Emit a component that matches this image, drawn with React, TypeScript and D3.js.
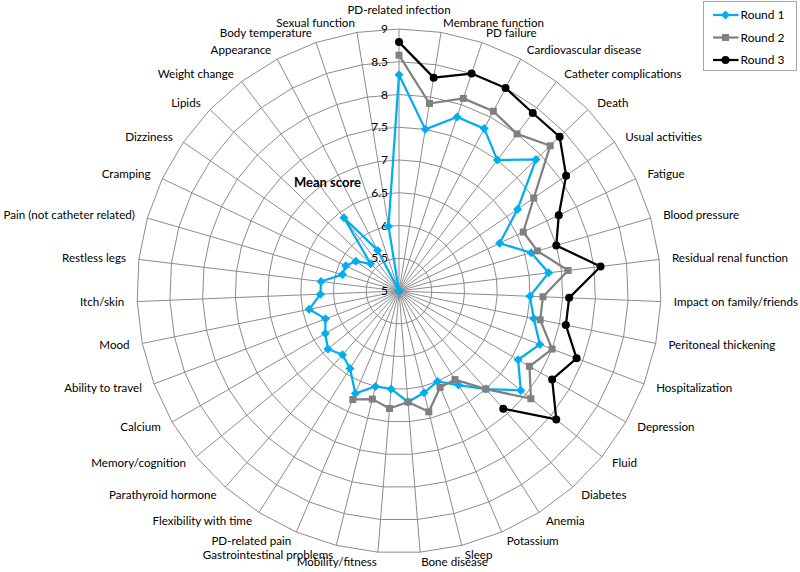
import { useRef, useEffect } from 'react'
import * as d3 from 'd3'

// outcome domains, clockwise from the top
const categories = [
  'PD-related infection', 'Membrane function', 'PD failure', 'Cardiovascular disease',
  'Catheter complications', 'Death', 'Usual activities', 'Fatigue', 'Blood pressure',
  'Residual renal function', 'Impact on family/friends', 'Peritoneal thickening',
  'Hospitalization', 'Depression', 'Fluid', 'Diabetes', 'Anemia', 'Potassium', 'Sleep',
  'Bone disease', 'Mobility/fitness', 'Gastrointestinal problems', 'PD-related pain',
  'Flexibility with time', 'Parathyroid hormone', 'Memory/cognition', 'Calcium',
  'Ability to travel', 'Mood', 'Itch/skin', 'Restless legs', 'Pain (not catheter related)',
  'Cramping', 'Dizziness', 'Lipids', 'Weight change', 'Appearance', 'Body temperature',
  'Sexual function'
]

const round1 = [
  8.3, 7.5, 7.8, 7.8, 7.5, 7.9, 7.2, 6.7, 7.1, 7.3, 7.0, 7.1, 7.3, 7.1, 7.4, 7.0, 6.7,
  6.5, 6.6, 6.7, 6.5, 6.5, 6.7, 6.4, 6.3, 6.4, 6.3, 6.2, 6.4, 6.2, 6.2, 5.9, 5.9, 5.8,
  5.6, 6.4, 5.7, 5.0, 6.0
]
const round2 = [
  8.6, 7.9, 8.1, 8.1, 8.0, 8.2, 7.5, 7.1, 7.2, 7.6, 7.2, 7.2, 7.5, 7.3, 7.6, 7.0, 6.6,
  6.6, 6.9, 6.7, 6.8, 6.7, 6.8
]
const round3 = [
  8.8, 8.3, 8.5, 8.5, 8.4, 8.4, 8.1, 7.7, 7.5, 8.1, 7.6, 7.6, 7.9, 7.7, 8.1, 7.4
]

const ticks = [5, 5.5, 6, 6.5, 7, 7.5, 8, 8.5, 9]
const seriesNames = ['Round 1', 'Round 2', 'Round 3']

export default function App() {
  const ref = useRef<HTMLDivElement>(null)

  useEffect(() => {
    const width = 800
    const height = 572
    const cx = 399
    const cy = 291
    const n = categories.length
    const font = 'Lato, "Open Sans", sans-serif'

    const r = d3.scaleLinear().domain([5, 9]).range([0, 262])
    const ang = (i: number) => (i * 2 * Math.PI) / n

    const svg = d3.create('svg')
      .attr('width', width)
      .attr('height', height)
      .style('position', 'absolute')
      .style('left', '0px')
      .style('top', '0px')
      .style('font-family', font)

    svg.append('rect').attr('width', width).attr('height', height).attr('fill', 'white')

    const g = svg.append('g').attr('transform', `translate(${cx},${cy})`)

    // grid rings (polygons, like Excel)
    const ring = d3.lineRadial<number>()
      .angle((_, i) => ang(i))
      .radius(d => d)
      .curve(d3.curveLinearClosed)
    g.selectAll('path.ring')
      .data(ticks.slice(1))
      .enter()
      .append('path')
      .attr('class', 'ring')
      .attr('d', t => ring(categories.map(() => r(t))))
      .attr('fill', 'none')
      .attr('stroke', '#8c8c8c')
      .attr('stroke-width', 1)

    // spokes
    g.selectAll('line.spoke')
      .data(categories)
      .enter()
      .append('line')
      .attr('class', 'spoke')
      .attr('x1', 0).attr('y1', 0)
      .attr('x2', (_, i) => r(9) * Math.sin(ang(i)))
      .attr('y2', (_, i) => -r(9) * Math.cos(ang(i)))
      .attr('stroke', '#8c8c8c')
      .attr('stroke-width', 1)

    // value axis labels
    g.selectAll('text.tick')
      .data(ticks)
      .enter()
      .append('text')
      .attr('class', 'tick')
      .attr('x', -11)
      .attr('y', t => -r(t))
      .attr('dy', '0.35em')
      .attr('text-anchor', 'end')
      .style('font-size', '12px')
      .style('fill', '#000')
      .text(t => String(t))

    g.append('text')
      .attr('x', -105)
      .attr('y', -109)
      .attr('dy', '0.35em')
      .style('font-size', '13px')
      .style('font-weight', 'bold')
      .text('Mean score')

    // category labels
    g.selectAll('text.cat')
      .data(categories)
      .enter()
      .append('text')
      .attr('class', 'cat')
      .attr('x', (_, i) => 275 * Math.sin(ang(i)))
      .attr('y', (_, i) => {
        const c = Math.cos(ang(i))
        const s = Math.sin(ang(i))
        return -272 * c - (Math.abs(s) < 0.01 ? 9 * Math.sign(c) : 0)
      })
      .attr('dy', '0.35em')
      .attr('text-anchor', (_, i) => {
        const s = Math.sin(ang(i))
        return Math.abs(s) < 0.01 ? 'middle' : s > 0 ? 'start' : 'end'
      })
      .style('font-size', '11.6px')
      .text(d => d)

    // series
    const series = [
      { name: seriesNames[0], values: round1, color: '#00aeef', marker: 'diamond' },
      { name: seriesNames[1], values: round2, color: '#808080', marker: 'square' },
      { name: seriesNames[2], values: round3, color: '#000000', marker: 'circle' }
    ]

    const markerPath = (m: string) => {
      if (m === 'diamond') return 'M0,-4.5L4.5,0L0,4.5L-4.5,0Z'
      if (m === 'square') return 'M-3.5,-3.5H3.5V3.5H-3.5Z'
      return d3.symbol(d3.symbolCircle, 50)() as string
    }

    series.forEach(s => {
      const full: (number | null)[] = categories.map((_, i) => (i < s.values.length ? s.values[i] : null))
      const closed = [...full, full[0]]
      const line = d3.lineRadial<number | null>()
        .defined(d => d != null)
        .angle((_, i) => ang(i))
        .radius(d => r(d as number))

      g.append('path')
        .attr('d', line(closed))
        .attr('fill', 'none')
        .attr('stroke', s.color)
        .attr('stroke-width', 2.25)
        .attr('stroke-linejoin', 'round')

      g.selectAll(null)
        .data(s.values)
        .enter()
        .append('path')
        .attr('transform', (d, i) => `translate(${r(d) * Math.sin(ang(i))},${-r(d) * Math.cos(ang(i))})`)
        .attr('d', markerPath(s.marker))
        .attr('fill', s.color)
    })

    // legend
    const legend = svg.append('g').attr('transform', 'translate(703.5,1.5)')
    legend.append('rect')
      .attr('width', 93)
      .attr('height', 69)
      .attr('fill', 'white')
      .attr('stroke', '#a6a6a6')
    series.forEach((s, i) => {
      const y = 13.5 + i * 22.5
      legend.append('line')
        .attr('x1', 9.5).attr('x2', 35)
        .attr('y1', y).attr('y2', y)
        .attr('stroke', s.color)
        .attr('stroke-width', 2.25)
      legend.append('path')
        .attr('transform', `translate(22,${y})`)
        .attr('d', markerPath(s.marker))
        .attr('fill', s.color)
      legend.append('text')
        .attr('x', 37)
        .attr('y', y)
        .attr('dy', '0.35em')
        .style('font-size', '12px')
        .text(s.name)
    })

    ref.current?.append(svg.node() as SVGSVGElement)
    return () => { svg.node()?.remove() }
  }, [])

  return <div ref={ref}></div>
}
